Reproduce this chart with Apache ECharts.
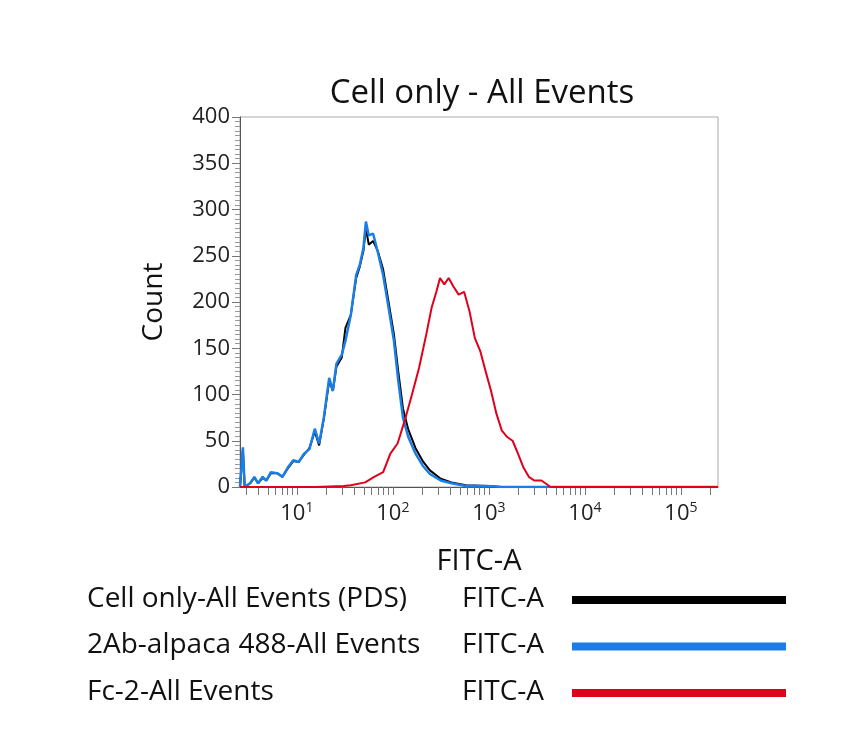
<!DOCTYPE html>
<html><head><meta charset="utf-8">
<script src="https://cdn.jsdelivr.net/npm/echarts@6/dist/echarts.min.js"></script>
<style>html,body{margin:0;padding:0;background:#fff}#c{width:860px;height:755px}</style>
</head><body><div id="c"></div>
<script>
// x values are log10(FITC-A)
const blueX=[0.408,0.438,0.457,0.513,0.558,0.596,0.644,0.682,0.730,0.794,0.850,0.906,0.963,1.019,1.075,1.131,1.187,1.232,1.281,1.337,1.375,1.412,1.468,1.506,1.562,1.618,1.655,1.693,1.719,1.749,1.794,1.843,1.899,1.955,2.011,2.056,2.105,2.161,2.236,2.311,2.386,2.498,2.610,2.760,2.985,3.135,5.382];
const blueY=[0,43,0,4,11,4,11,7,16,15,11,21,29,27,36,41,63,47,75,118,104,133,143,158,186,229,240,258,287,272,274,254,229,194,158,115,75,54,36,23,14,7,4,1,1,0,0];
const blackY=[0,40,0,4,10,4,10,7,15,15,11,20,28,27,35,42,60,45,74,115,104,130,140,172,186,226,238,255,280,262,266,255,235,200,165,125,85,62,42,28,18,9,5,2,1,0,0];
const redX=[0.408,1.187,1.487,1.562,1.712,1.805,1.899,1.974,2.049,2.124,2.199,2.273,2.348,2.404,2.453,2.491,2.536,2.581,2.629,2.685,2.742,2.798,2.854,2.910,2.966,3.022,3.079,3.135,3.191,3.247,3.303,3.360,3.416,3.472,3.547,3.603,3.640,5.382];
const redY=[0,0,1,2,5,11,16,36,47,72,100,129,165,194,211,226,219,226,217,208,211,190,161,147,125,104,79,61,54,50,36,21,11,7,7,3,0,0];
const yTicks=[0,50,100,150,200,250,300,350,400];
const xMajor=[1,2,3,4,5];
const legendNames=['Cell only-All Events (PDS)','2Ab-alpaca 488-All Events','Fc-2-All Events'];
const legendColors=['#000000','#1a7ee6','#e0001b'];

const pair=(xs,ys)=>xs.map((x,i)=>[x,ys[i]]);
const xMinor=[];
for(let d=0;d<=5;d++)for(let k=1;k<=9;k++){const v=d+Math.log10(k);if(v>=0.408&&v<=5.386)xMinor.push(v);}
const chart=echarts.init(document.getElementById('c'));
const F='Open Sans';
const graphic=[];
legendNames.forEach((n,i)=>{
  const y=604+i*46.5;
  graphic.push({type:'text',left:87,top:y-19,style:{text:n,font:'28px "Open Sans"',fill:'#111'}});
  graphic.push({type:'text',left:462,top:y-19,style:{text:'FITC-A',font:'28px "Open Sans"',fill:'#111'}});
  graphic.push({type:'rect',shape:{x:572,y:y-8,width:214,height:8},style:{fill:legendColors[i]}});
});
chart.setOption({
  animation:false,
  title:{text:'Cell only - All Events',left:477,top:72,textAlign:'center',textStyle:{fontFamily:F,fontSize:33,fontWeight:'normal',color:'#111'}},
  grid:{left:240,top:117,width:478,height:370,show:true,borderColor:'#aaa',borderWidth:1},
  xAxis:{type:'value',min:0.408,max:5.386,name:'FITC-A',nameLocation:'middle',nameGap:60,
    nameTextStyle:{fontFamily:F,fontSize:29,color:'#111'},
    axisLine:{lineStyle:{color:'#555'}},splitLine:{show:false},
    axisTick:{customValues:xMinor,length:8,lineStyle:{color:'#777'}},
    axisLabel:{customValues:xMajor,margin:14,formatter:v=>'{b|10}{s|'+Math.round(v)+'}',
      rich:{b:{fontFamily:F,fontSize:22,color:'#222'},s:{fontFamily:F,fontSize:14,color:'#222',verticalAlign:'top',padding:[0,0,12,0]}}}},
  yAxis:{type:'value',min:0,max:400,interval:50,name:'Count',nameLocation:'middle',nameGap:72,
    nameTextStyle:{fontFamily:F,fontSize:28,color:'#111'},
    axisLine:{show:true,lineStyle:{color:'#555'}},splitLine:{show:false},
    axisTick:{show:true,length:8,lineStyle:{color:'#777'}},
    minorTick:{show:true,splitNumber:10,length:5,lineStyle:{color:'#999'}},
    axisLabel:{fontFamily:F,fontSize:22,color:'#222',margin:10}},
  graphic:graphic,
  series:[
    {type:'line',data:pair(blueX,blackY),showSymbol:false,lineStyle:{color:legendColors[0],width:2}},
    {type:'line',data:pair(blueX,blueY),showSymbol:false,lineStyle:{color:legendColors[1],width:2.5}},
    {type:'line',data:pair(redX,redY),showSymbol:false,lineStyle:{color:legendColors[2],width:2}}
  ]
});
</script></body></html>
